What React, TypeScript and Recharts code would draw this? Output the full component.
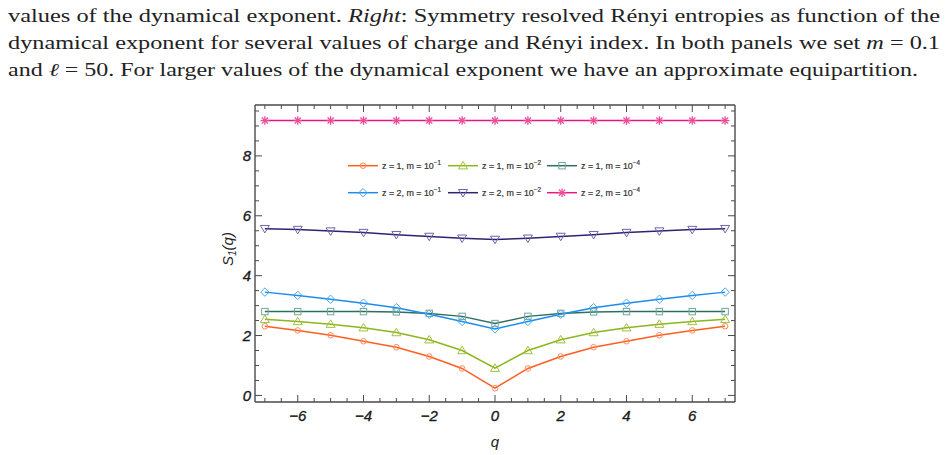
import React from 'react';
import { LineChart, Line, XAxis, YAxis, Legend } from 'recharts';

const qValues = [-7, -6, -5, -4, -3, -2, -1, 0, 1, 2, 3, 4, 5, 6, 7];
const z1m1 = [2.31, 2.17, 2.01, 1.81, 1.61, 1.30, 0.90, 0.24, 0.90, 1.30, 1.61, 1.81, 2.01, 2.17, 2.31];
const z1m2 = [2.54, 2.47, 2.38, 2.26, 2.10, 1.86, 1.50, 0.91, 1.50, 1.86, 2.10, 2.26, 2.38, 2.47, 2.54];
const z1m4 = [2.80, 2.80, 2.80, 2.80, 2.79, 2.74, 2.64, 2.40, 2.64, 2.74, 2.79, 2.80, 2.80, 2.80, 2.80];
const z2m1 = [3.45, 3.34, 3.21, 3.08, 2.93, 2.71, 2.47, 2.22, 2.47, 2.71, 2.93, 3.08, 3.21, 3.34, 3.45];
const z2m2 = [5.57, 5.54, 5.49, 5.44, 5.37, 5.31, 5.25, 5.21, 5.25, 5.31, 5.37, 5.44, 5.49, 5.54, 5.57];
const z2m4 = [9.18, 9.18, 9.18, 9.18, 9.18, 9.18, 9.18, 9.18, 9.18, 9.18, 9.18, 9.18, 9.18, 9.18, 9.18];

const xTicks = [-7, -6.5, -6, -5.5, -5, -4.5, -4, -3.5, -3, -2.5, -2, -1.5, -1, -0.5, 0, 0.5, 1, 1.5, 2, 2.5, 3, 3.5, 4, 4.5, 5, 5.5, 6, 6.5, 7];
const yTicks = [0, 0.5, 1, 1.5, 2, 2.5, 3, 3.5, 4, 4.5, 5, 5.5, 6, 6.5, 7, 7.5, 8, 8.5, 9, 9.5];
const xMajor = [-6, -4, -2, 0, 2, 4, 6];
const yMajor = [0, 2, 4, 6, 8];

const seriesList = [
  { key: 'z1m1', z: '1', exp: '\u22121', values: z1m1, line: '#FF5F1F', mark: '#FF8A5E', shape: 'circle' },
  { key: 'z1m2', z: '1', exp: '\u22122', values: z1m2, line: '#8DB51C', mark: '#9DC23A', shape: 'triangle' },
  { key: 'z1m4', z: '1', exp: '\u22124', values: z1m4, line: '#2F6F62', mark: '#6FA69A', shape: 'square' },
  { key: 'z2m1', z: '2', exp: '\u22121', values: z2m1, line: '#1E8CEB', mark: '#4AA6F2', shape: 'diamond' },
  { key: 'z2m2', z: '2', exp: '\u22122', values: z2m2, line: '#2B2472', mark: '#6C66A8', shape: 'invtriangle' },
  { key: 'z2m4', z: '2', exp: '\u22124', values: z2m4, line: '#E8177F', mark: '#EE4A98', shape: 'star' },
];

const data = qValues.map((q, i) => {
  const row: any = { q };
  seriesList.forEach((s) => { row[s.key] = s.values[i]; });
  return row;
});

const FRAME = '#4a4a4a';
const TICKFONT = "'Liberation Sans', Arial, sans-serif";
const tickTextStyle: React.CSSProperties = { fontFamily: TICKFONT, fontStyle: 'italic', fontSize: 15 };

function Marker({ shape, cx, cy, color }: any) {
  const sw = 1;
  switch (shape) {
    case 'circle':
      return <circle cx={cx} cy={cy} r={2.8} fill="none" stroke={color} strokeWidth={sw} />;
    case 'triangle':
      return <polygon points={`${cx},${cy - 4.3} ${cx - 4.5},${cy + 3.2} ${cx + 4.5},${cy + 3.2}`} fill="none" stroke={color} strokeWidth={sw} />;
    case 'invtriangle':
      return <polygon points={`${cx},${cy + 4.3} ${cx - 4.5},${cy - 3.2} ${cx + 4.5},${cy - 3.2}`} fill="none" stroke={color} strokeWidth={sw} />;
    case 'square':
      return <rect x={cx - 3.2} y={cy - 3.2} width={6.4} height={6.4} fill="none" stroke={color} strokeWidth={sw} />;
    case 'diamond':
      return <polygon points={`${cx},${cy - 4.2} ${cx + 4.2},${cy} ${cx},${cy + 4.2} ${cx - 4.2},${cy}`} fill="none" stroke={color} strokeWidth={sw} />;
    case 'star': {
      const r = 4.3;
      const d = r * 0.7071;
      return (
        <g stroke={color} strokeWidth={1.3}>
          <line x1={cx - r} y1={cy} x2={cx + r} y2={cy} />
          <line x1={cx} y1={cy - r} x2={cx} y2={cy + r} />
          <line x1={cx - d} y1={cy - d} x2={cx + d} y2={cy + d} />
          <line x1={cx - d} y1={cy + d} x2={cx + d} y2={cy - d} />
        </g>
      );
    }
    default:
      return null;
  }
}

const fmt = (v: number) => (v < 0 ? '\u2212' + Math.abs(v) : String(v));

const BottomTick = (props: any) => {
  const { x, y, payload } = props;
  const v = payload.value;
  const major = xMajor.includes(v);
  return (
    <g>
      <line x1={x} x2={x} y1={y} y2={y - (major ? 7 : 4)} stroke={FRAME} strokeWidth={1} />
      {major && (
        <text x={x} y={y + 18.5} textAnchor="middle" style={tickTextStyle} fill="#1a1a1a" stroke="#1a1a1a" strokeWidth={0.35}>
          {fmt(v)}
        </text>
      )}
    </g>
  );
};

const TopTick = (props: any) => {
  const { x, y, payload } = props;
  const major = xMajor.includes(payload.value);
  return <line x1={x} x2={x} y1={y} y2={y + (major ? 7 : 4)} stroke={FRAME} strokeWidth={1} />;
};

const LeftTick = (props: any) => {
  const { x, y, payload } = props;
  const v = payload.value;
  const major = yMajor.includes(v);
  return (
    <g>
      <line x1={x} x2={x + (major ? 7 : 4)} y1={y} y2={y} stroke={FRAME} strokeWidth={1} />
      {major && (
        <text x={x - 4} y={y + 5.3} textAnchor="end" style={tickTextStyle} fill="#1a1a1a" stroke="#1a1a1a" strokeWidth={0.35}>
          {fmt(v)}
        </text>
      )}
    </g>
  );
};

const RightTick = (props: any) => {
  const { x, y, payload } = props;
  const major = yMajor.includes(payload.value);
  return <line x1={x} x2={x - (major ? 7 : 4)} y1={y} y2={y} stroke={FRAME} strokeWidth={1} />;
};

const LegendContent = () => {
  const colX = [8, 108, 207];
  const rowY = [15.7, 42.7];
  return (
    <svg width={290} height={60} style={{ overflow: 'visible' }}>
      {seriesList.map((s, i) => {
        const col = i % 3;
        const row = Math.floor(i / 3);
        const x0 = colX[col];
        const y0 = rowY[row];
        return (
          <g key={s.key}>
            <line x1={x0} x2={x0 + 30} y1={y0} y2={y0} stroke={s.line} strokeWidth={1.5} />
            <Marker shape={s.shape} cx={x0 + 15} cy={y0} color={s.mark} />
            <text x={x0 + 34} y={y0 + 3.1} style={{ fontFamily: TICKFONT, fontSize: 8.9 }} fill="#333" stroke="#333" strokeWidth={0.2}>
              {`z = ${s.z}, m = 10`}
              <tspan dy={-3.6} style={{ fontSize: 6.3 }}>{s.exp}</tspan>
            </text>
          </g>
        );
      })}
    </svg>
  );
};

const SERIF = "'Liberation Serif', 'Times New Roman', serif";

export default function App() {
  return (
    <div style={{ position: 'absolute', left: 0, top: 0, width: 952, height: 455, background: '#fff' }}>
      <svg width={952} height={90} style={{ position: 'absolute', left: 0, top: 0 }}>
        <text x={8} y={21.5} fontFamily={SERIF} fontSize={18} fill="#222" textLength={932} lengthAdjust="spacingAndGlyphs">
          values of the dynamical exponent. <tspan fontStyle="italic">Right</tspan>: Symmetry resolved Rényi entropies as function of the
        </text>
        <text x={8} y={48.5} fontFamily={SERIF} fontSize={18} fill="#222" textLength={932} lengthAdjust="spacingAndGlyphs">
          dynamical exponent for several values of charge and Rényi index. In both panels we set <tspan fontStyle="italic">m</tspan> = 0.1
        </text>
        <text x={8} y={76} fontFamily={SERIF} fontSize={18} fill="#222" textLength={910} lengthAdjust="spacingAndGlyphs">
          and <tspan fontStyle="italic">ℓ</tspan> = 50. For larger values of the dynamical exponent we have an approximate equipartition.
        </text>
      </svg>
      <div style={{ position: 'absolute', left: 0, top: 0 }}>
        <LineChart width={952} height={455} data={data} margin={{ top: 104, right: 216, bottom: 33, left: 225 }}>
          <XAxis
            xAxisId="b"
            dataKey="q"
            type="number"
            domain={[-7.3, 7.3]}
            allowDataOverflow
            ticks={xTicks}
            interval={0}
            height={20}
            tickSize={0}
            tickMargin={0}
            tickLine={false}
            axisLine={{ stroke: FRAME, strokeWidth: 1.4 }}
            tick={<BottomTick />}
            label={{
              content: () => (
                <text x={495} y={447} textAnchor="middle" style={{ fontFamily: TICKFONT, fontStyle: 'italic', fontSize: 15 }} fill="#222">q</text>
              ),
            }}
          />
          <XAxis
            xAxisId="t"
            orientation="top"
            dataKey="q"
            type="number"
            domain={[-7.3, 7.3]}
            allowDataOverflow
            ticks={xTicks}
            interval={0}
            height={1}
            tickSize={0}
            tickMargin={0}
            tickLine={false}
            axisLine={{ stroke: FRAME, strokeWidth: 1.4 }}
            tick={<TopTick />}
          />
          <YAxis
            yAxisId="l"
            type="number"
            domain={[-0.22, 9.7]}
            allowDataOverflow
            ticks={yTicks}
            interval={0}
            width={30}
            tickSize={0}
            tickMargin={0}
            tickLine={false}
            axisLine={{ stroke: FRAME, strokeWidth: 1.4 }}
            tick={<LeftTick />}
            label={{
              content: () => (
                <text transform="translate(233,249) rotate(-90)" textAnchor="middle" style={{ fontFamily: TICKFONT, fontStyle: 'italic', fontSize: 15 }} fill="#222">
                  S<tspan dy={3} style={{ fontSize: 10 }}>1</tspan><tspan dy={-3}>(q)</tspan>
                </text>
              ),
            }}
          />
          <YAxis
            yAxisId="r"
            orientation="right"
            type="number"
            domain={[-0.22, 9.7]}
            allowDataOverflow
            ticks={yTicks}
            interval={0}
            width={1}
            tickSize={0}
            tickMargin={0}
            tickLine={false}
            axisLine={{ stroke: FRAME, strokeWidth: 1.4 }}
            tick={<RightTick />}
          />
          <Legend
            layout="horizontal"
            verticalAlign="middle"
            align="center"
            content={<LegendContent />}
            wrapperStyle={{ position: 'absolute', left: 340, top: 150, width: 290, height: 60 }}
          />
          {seriesList.map((s) => (
            <Line
              key={s.key}
              xAxisId="b"
              yAxisId="l"
              dataKey={s.key}
              type="linear"
              stroke={s.line}
              strokeWidth={1.5}
              isAnimationActive={false}
              dot={(p: any) => <Marker key={`${s.key}-${p.index}`} shape={s.shape} cx={p.cx} cy={p.cy} color={s.mark} />}
              activeDot={false}
            />
          ))}
        </LineChart>
      </div>
    </div>
  );
}
